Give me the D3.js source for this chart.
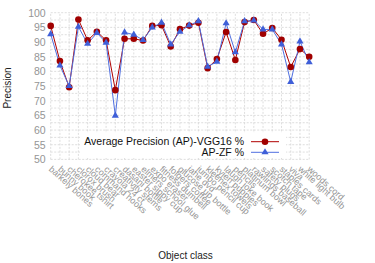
<!DOCTYPE html>
<html><head><meta charset="utf-8">
<script src="https://cdn.jsdelivr.net/npm/d3@7"></script>
<style>
html,body{margin:0;padding:0;background:#fff;}
svg{display:block;font-family:"Liberation Sans",Arial,sans-serif;}
</style></head>
<body><svg id="c" width="375" height="263"></svg>
<script>
const categories = ["barkely bones","bunny book","cherokee tshirt","clorox brush","cloud bear","command hooks","crayola 24 ct","creativity stems","dasani bottle","easter sippy cup","elmers school glue","expo eraser","fitness dumbell","folgers coffee","glucose up bottle","jane dvd","jumbo pencil cup","kleenex towels","kyjen puppies","laugh joke book","pencils","platinum bowl","rawlings baseball","safety plugs","scotch tape","staples cards","viva","white light bulb","woods cord"];
const apVGG16 = [95.5,83.5,74.6,97.7,90.6,93.5,90.6,73.6,91.1,91.1,90.5,95.5,95.7,88.5,94.4,95.6,96.6,81.1,84.2,93.4,83.9,96.8,97.5,92.8,94.8,90.8,81.5,87.6,85.0];
const apZF = [92.7,82.0,75.0,95.2,89.4,93.1,89.8,64.9,93.3,92.5,90.7,95.0,96.6,89.2,93.5,95.7,97.1,81.6,83.3,96.4,86.5,97.1,97.4,94.3,94.3,89.2,76.4,90.2,83.1];
const yTicks = [50,55,60,65,70,75,80,85,90,95,100];
const yGrid = d3.range(50, 100.01, 2.5);
const seriesNames = ["Average Precision (AP)-VGG16 %","AP-ZF %"];

const svg = d3.select("#c");
const x = d3.scalePoint().domain(categories).range([50.7, 309.2]).padding(0);
const y = d3.scaleLinear().domain([50,100]).range([159.4, 12.7]);

const grid = svg.append("g").attr("stroke","#d6d6d6").attr("stroke-width",0.8).attr("stroke-dasharray","2,1.5");
grid.selectAll("line.h").data(yGrid).join("line").attr("class","h")
  .attr("x1",x.range()[0]).attr("x2",x.range()[1]).attr("y1",d=>y(d)).attr("y2",d=>y(d));
grid.selectAll("line.v").data(categories).join("line").attr("class","v")
  .attr("x1",d=>x(d)).attr("x2",d=>x(d)).attr("y1",y(50)).attr("y2",y(100));

// y axis labels
const yAxis = d3.axisLeft(y).tickValues(yTicks).tickSize(0).tickPadding(5);
const ya = svg.append("g").attr("transform",`translate(${x.range()[0]},0)`).call(yAxis);
ya.select(".domain").remove();
ya.selectAll("text").attr("fill","#959595").attr("font-size","10.5px").attr("font-family","Liberation Sans, Arial, sans-serif");

// x labels
const xAxis = d3.axisBottom(x).tickSize(0).tickPadding(0);
const xa = svg.append("g").attr("transform",`translate(0,${y(50)})`).call(xAxis);
xa.select(".domain").remove();
xa.selectAll("text").attr("fill","#959595").attr("font-size","9px").attr("font-family","Liberation Sans, Arial, sans-serif")
  .attr("text-anchor","start").attr("dy",null).attr("y",null)
  .attr("transform","translate(-3,10.5) rotate(42)");

// legend background
svg.append("rect").attr("x",80).attr("y",133).attr("width",206).attr("height",25).attr("fill","#fff");

const cols = ["#b00000","#4f6fe0"];
const markFill = ["#a00000","#3f5fd8"];
const sets = [apVGG16, apZF];
const line = d3.line().x((d,i)=>x(categories[i])).y(d=>y(d));
sets.forEach((s,k)=>{
  svg.append("path").datum(s).attr("d",line).attr("fill","none").attr("stroke",cols[k]).attr("stroke-width",1);
});
svg.append("g").selectAll("circle").data(apVGG16).join("circle")
  .attr("cx",(d,i)=>x(categories[i])).attr("cy",d=>y(d)).attr("r",3.3).attr("fill",markFill[0]);
const tri = d3.symbol().type(d3.symbolTriangle).size(22);
svg.append("g").selectAll("path").data(apZF).join("path")
  .attr("d",tri).attr("transform",(d,i)=>`translate(${x(categories[i])},${y(d)})`).attr("fill",markFill[1]);

// legend
const lg = svg.append("g");
seriesNames.forEach((n,k)=>{
  const ly = 141.7 + k*10.6;
  lg.append("text").attr("x",244).attr("y",ly).attr("dy","0.35em").attr("text-anchor","end")
    .attr("font-size","10.5px").attr("fill","#111").text(n);
  lg.append("line").attr("x1",251).attr("x2",279).attr("y1",ly).attr("y2",ly).attr("stroke",cols[k]).attr("stroke-width",1);
  if(k===0) lg.append("circle").attr("cx",265).attr("cy",ly).attr("r",3.3).attr("fill",markFill[0]);
  else lg.append("path").attr("d",tri).attr("transform",`translate(265,${ly})`).attr("fill",markFill[1]);
});

// axis titles
svg.append("text").attr("transform","translate(11,88) rotate(-90)").attr("text-anchor","middle")
  .attr("font-size","10px").attr("fill","#222").text("Precision");
svg.append("text").attr("x",185.5).attr("y",259).attr("text-anchor","middle")
  .attr("font-size","10px").attr("fill","#222").text("Object class");
</script></body></html>
